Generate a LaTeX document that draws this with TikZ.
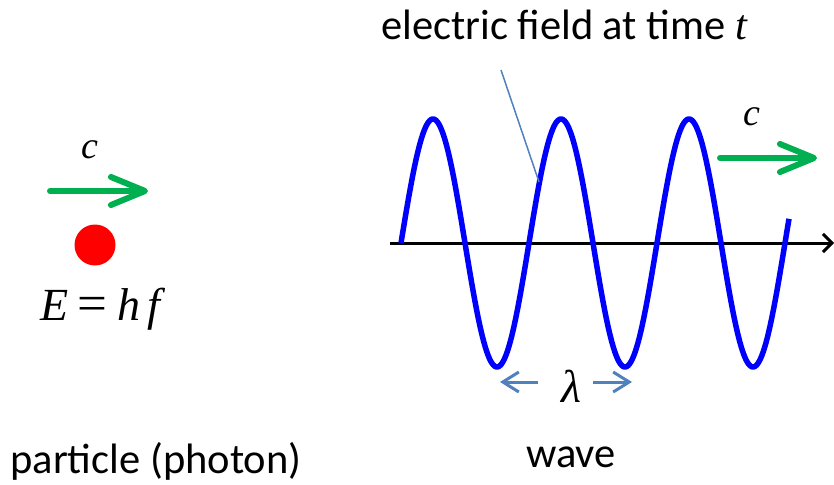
\documentclass[tikz,border=0pt]{standalone}
\usepackage{fontspec}
\setmainfont{Carlito}
\newfontfamily\tms{Liberation Serif}
\usetikzlibrary{arrows.meta}
\definecolor{pgreen}{HTML}{00B050}
\definecolor{pblue}{HTML}{0000FF}
\definecolor{psteel}{HTML}{4F81BD}
\definecolor{pred}{HTML}{FF0000}
\tikzset{
  lbl/.style={inner sep=0pt, font=\fontsize{42.5}{50}\selectfont},
  mth/.style={inner sep=0pt, font=\fontsize{46}{52}\selectfont\tms\itshape},
  cmth/.style={inner sep=0pt, font=\fontsize{38}{46}\selectfont\tms\itshape},
  garrow/.style={pgreen, line width=6pt, line cap=round, -{Straight Barb[length=34pt,width=28pt,round]}},
  larrow/.style={psteel, line width=3pt, -{Straight Barb[length=16pt,width=20pt]}},
  wavepath/.style={pblue, line width=5.5pt, line join=round},
  axisline/.style={black, line width=3pt, -{Straight Barb[length=9pt,width=18pt]}},
  leader/.style={psteel, line width=1.5pt}
}
\begin{document}
\begin{tikzpicture}[x=1pt,y=-1pt]
\useasboundingbox (0,0) rectangle (834,484);
% particle side
\coordinate (gl0) at (50,191);
\coordinate (gl1) at (148,191);
\draw[garrow] (gl0) -- (gl1);
\node[cmth, anchor=base] (cl) at (90,158) {c};
\fill[pred] (95,245) circle[radius=20.5];
\node[mth, anchor=base] (ehf) at (100,320) {E\kern9pt{\upshape\scalebox{1.15}[1.1]{=}}\kern10pt h\kern7pt f};
\node[lbl, anchor=base] (part) at (156,473) {particle (photon)};
% wave side
\coordinate (ax0) at (390,243);
\coordinate (ax1) at (834,243);
\draw[axisline] (ax0) -- (ax1);
\draw[wavepath] plot[domain=0:388, samples=300, smooth] ({401+\x}, {243 - 124*sin(2.8125*\x)});
\node[lbl, anchor=base west] (title) at (381,40) {electric field at time {\tms\itshape t}};
\coordinate (ld0) at (501,70);
\coordinate (ld1) at (539,182);
\draw[leader] (ld0) -- (ld1);
\coordinate (gr0) at (720,158);
\coordinate (gr1) at (817,158);
\draw[garrow] (gr0) -- (gr1);
\node[cmth, anchor=base] (cr) at (752,125) {c};
\node[mth, anchor=base] (lam) at (571,402) {λ};
\coordinate (la0) at (538,382);
\coordinate (la1) at (500,382);
\coordinate (lb0) at (593,382);
\coordinate (lb1) at (632,382);
\draw[larrow] (la0) -- (la1);
\draw[larrow] (lb0) -- (lb1);
\node[lbl, anchor=base] (wave) at (571,467) {wave};
\end{tikzpicture}
\end{document}
